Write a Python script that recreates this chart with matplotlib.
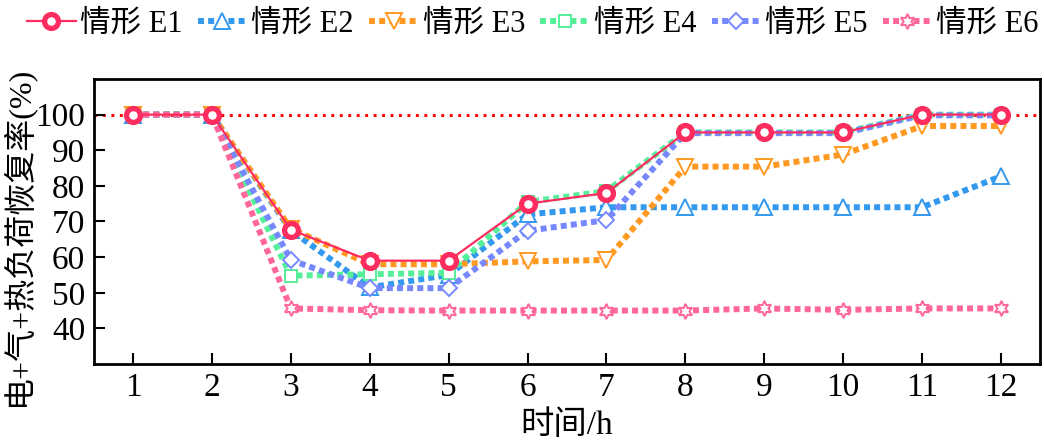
import matplotlib
matplotlib.use("Agg")
import matplotlib.pyplot as plt
import numpy as np

plt.rcParams['font.family'] = ['Liberation Serif', 'Noto Sans CJK SC', 'DejaVu Sans']

# data
hours = [1, 2, 3, 4, 5, 6, 7, 8, 9, 10, 11, 12]
e1 = [100, 100, 67.7, 59, 59, 75, 78, 95, 95, 95, 100, 100]
e2 = [100, 100, 67.5, 51.5, 55, 72, 74, 74, 74, 74, 74, 82.7]
e3 = [100, 100, 68, 58, 58, 58.8, 59.2, 85.4, 85.4, 88.8, 96.8, 96.8]
e4 = [100, 100, 54.8, 55.2, 55.6, 75.5, 78.5, 95, 95, 95, 100, 100]
e5 = [100, 100, 59.2, 51.3, 51.3, 67.4, 70.4, 94.8, 94.8, 94.8, 99.8, 99.8]
e6 = [100, 100, 45.6, 45.1, 45, 45, 45, 45, 45.6, 45.2, 45.6, 45.6]
labels = ['情形 E1', '情形 E2', '情形 E3', '情形 E4', '情形 E5', '情形 E6']

fig = plt.figure(figsize=(10.44, 4.43), dpi=100)
ax = fig.add_axes([0.0896, 0.1783, 0.9070, 0.6434])

dots = (0, (1, 0.7))
lw = 4.3

# reference line at 100 %
ax.axhline(100, color='#ff0000', lw=2.1, linestyle=(0, (1, 1.9)), zorder=1)

l2, = ax.plot(hours, e2, color='#3399ee', lw=lw, linestyle=dots, marker='^', ms=11,
              mfc='white', mec='#3399ee', mew=1.4, label=labels[1], zorder=2)
l3, = ax.plot(hours, e3, color='#ff9922', lw=lw, linestyle=dots, marker='v', ms=11,
              mfc='white', mec='#ff9922', mew=1.4, label=labels[2], zorder=2)
l4, = ax.plot(hours, e4, color='#55ee99', lw=lw, linestyle=dots, marker='s', ms=9,
              mfc='white', mec='#55ee99', mew=1.4, label=labels[3], zorder=2)
l5, = ax.plot(hours, e5, color='#7788ff', lw=lw, linestyle=dots, marker='D', ms=8,
              mfc='white', mec='#7788ff', mew=1.4, label=labels[4], zorder=3)
l6, = ax.plot(hours, e6, color='#ff6699', lw=lw, linestyle=dots, marker=(6, 1, 0), ms=11,
              mfc='white', mec='#ff6699', mew=1.4, label=labels[5], zorder=3)
l1, = ax.plot(hours, e1, color='#ff2d5f', lw=1.6, marker='o', ms=10,
              mfc='white', mec='#ff2d5f', mew=3.8, label=labels[0], zorder=5)

ax.set_xlim(0.5, 12.5)
ax.set_ylim(30, 110)
ax.set_xticks(hours)
ax.set_yticks([40, 50, 60, 70, 80, 90, 100])
ax.tick_params(direction='in', length=8, width=1.5, labelsize=24, pad=6)
for s in ax.spines.values():
    s.set_linewidth(2)

ax.set_xlabel('时间/h', fontsize=24, labelpad=5)
ax.set_ylabel('电+气+热负荷恢复率(%)', fontsize=23)
ax.yaxis.set_label_coords(-0.063, 0.45)

fig.legend(handles=[l1, l2, l3, l4, l5, l6], loc='upper left', ncol=6,
           bbox_to_anchor=(0.008, 1.02), frameon=False, fontsize=22,
           handlelength=1.6, handletextpad=0.15, columnspacing=0.5,
           borderaxespad=0.2)

fig.savefig('out.png', dpi=100)
